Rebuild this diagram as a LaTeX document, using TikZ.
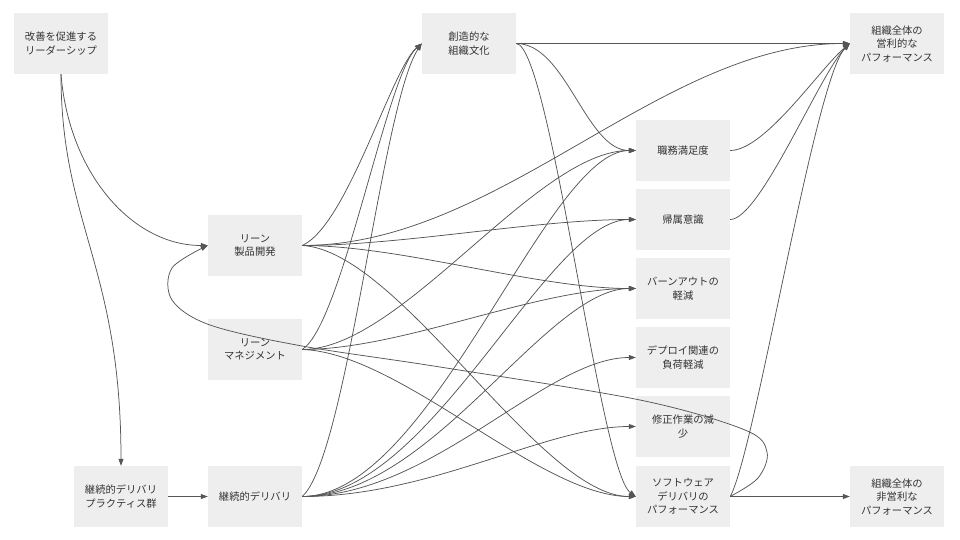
\documentclass[tikz,border=0pt]{standalone}
\usepackage{fontspec}
\setmainfont{Noto Sans CJK JP}
\usetikzlibrary{arrows.meta}
\definecolor{boxfill}{HTML}{EEEEEE}
\definecolor{edgecol}{HTML}{555555}
\definecolor{txtcol}{HTML}{333333}
\begin{document}
\begin{tikzpicture}[x=1pt,y=-1pt,
  box/.style={fill=boxfill, minimum width=94pt, minimum height=61pt, inner sep=0pt,
    align=center, text=txtcol, font=\fontsize{10.3pt}{13.5pt}\selectfont},
  edge/.style={draw=edgecol, line width=0.75pt, -{Triangle[length=7pt,width=5pt]}}]
\useasboundingbox (0,0) rectangle (960,540);
% nodes
\node[box] (A) at (61,43.5) {改善を促進する\\リーダーシップ};
\node[box] (B) at (255,245.5) {リーン\\製品開発};
\node[box] (C) at (255,349.5) {リーン\\マネジメント};
\node[box] (D) at (121,496.5) {継続的デリバリ\\プラクティス群};
\node[box] (E) at (255,496.5) {継続的デリバリ};
\node[box] (F) at (469,43.5) {創造的な\\組織文化};
\node[box] (G) at (683,150.5) {職務満足度};
\node[box] (H) at (683,219.5) {帰属意識};
\node[box] (I) at (683,288.5) {バーンアウトの\\軽減};
\node[box] (J) at (683,357.5) {デプロイ関連の\\負荷軽減};
\node[box] (K) at (683,426.5) {修正作業の減\\少};
\node[box] (L) at (683,496.5) {ソフトウェア\\デリバリの\\パフォーマンス};
\node[box] (M) at (897,43.5) {組織全体の\\営利的な\\パフォーマンス};
\node[box] (N) at (897,496.5) {組織全体の\\非営利な\\パフォーマンス};
% edges
\draw[edge] (A.south) .. controls +(8,100) and +(-75,0) .. (B.west);
\draw[edge] (A.south) .. controls +(0,150) and +(0,-200) .. (D.north);
\draw[edge] (D.east) -- (E.west);
\draw[edge] (B.east) .. controls +(45,-20) and +(-30,25) .. (F.west);
\draw[edge] (C.east) .. controls +(40,-25) and +(-35,30) .. (F.west);
\draw[edge] (E.east) .. controls +(45,-40) and +(-40,60) .. (F.west);
\draw[edge] (B.east) .. controls +(198,0) and +(-190,0) .. (M.west);
\draw[edge] (B.east) .. controls +(100,0) and +(-100,0) .. (H.west);
\draw[edge] (B.east) .. controls +(100,0) and +(-100,0) .. (I.west);
\draw[edge] (B.east) .. controls +(98,5) and +(-96,0) .. (L.west);
\draw[edge] (C.east) .. controls +(100,0) and +(-100,0) .. (G.west);
\draw[edge] (C.east) .. controls +(100,0) and +(-100,0) .. (I.west);
\draw[edge] (C.east) .. controls +(98,3) and +(-96,0) .. (L.west);
\draw[edge] (E.east) .. controls +(130,0) and +(-90,0) .. (G.west);
\draw[edge] (E.east) .. controls +(130,0) and +(-90,0) .. (H.west);
\draw[edge] (E.east) .. controls +(130,0) and +(-90,0) .. (I.west);
\draw[edge] (E.east) .. controls +(130,0) and +(-90,0) .. (J.west);
\draw[edge] (E.east) .. controls +(130,0) and +(-90,0) .. (K.west);
\draw[edge] (F.east) -- (M.west);
\draw[edge] (F.east) .. controls +(50,0) and +(-50,0) .. (G.west);
\draw[edge] (F.east) .. controls +(34,2) and +(-36,-26) .. (L.west);
\draw[edge] (G.east) .. controls +(35,0) and +(-30,25) .. (M.west);
\draw[edge] (H.east) .. controls +(30,0) and +(-30,30) .. (M.west);
\draw[edge] (L.east) .. controls +(25,-45) and +(-35,35) .. (M.west);
\draw[edge] (L.east) -- (N.west);
\draw[edge] plot[smooth, tension=0.55] coordinates {(L.east) (758,478) (767,452) (745,430) (640,400) (440,367) (302,346) (210,325) (172,300) (172,268) (B.west)};
\end{tikzpicture}
\end{document}
